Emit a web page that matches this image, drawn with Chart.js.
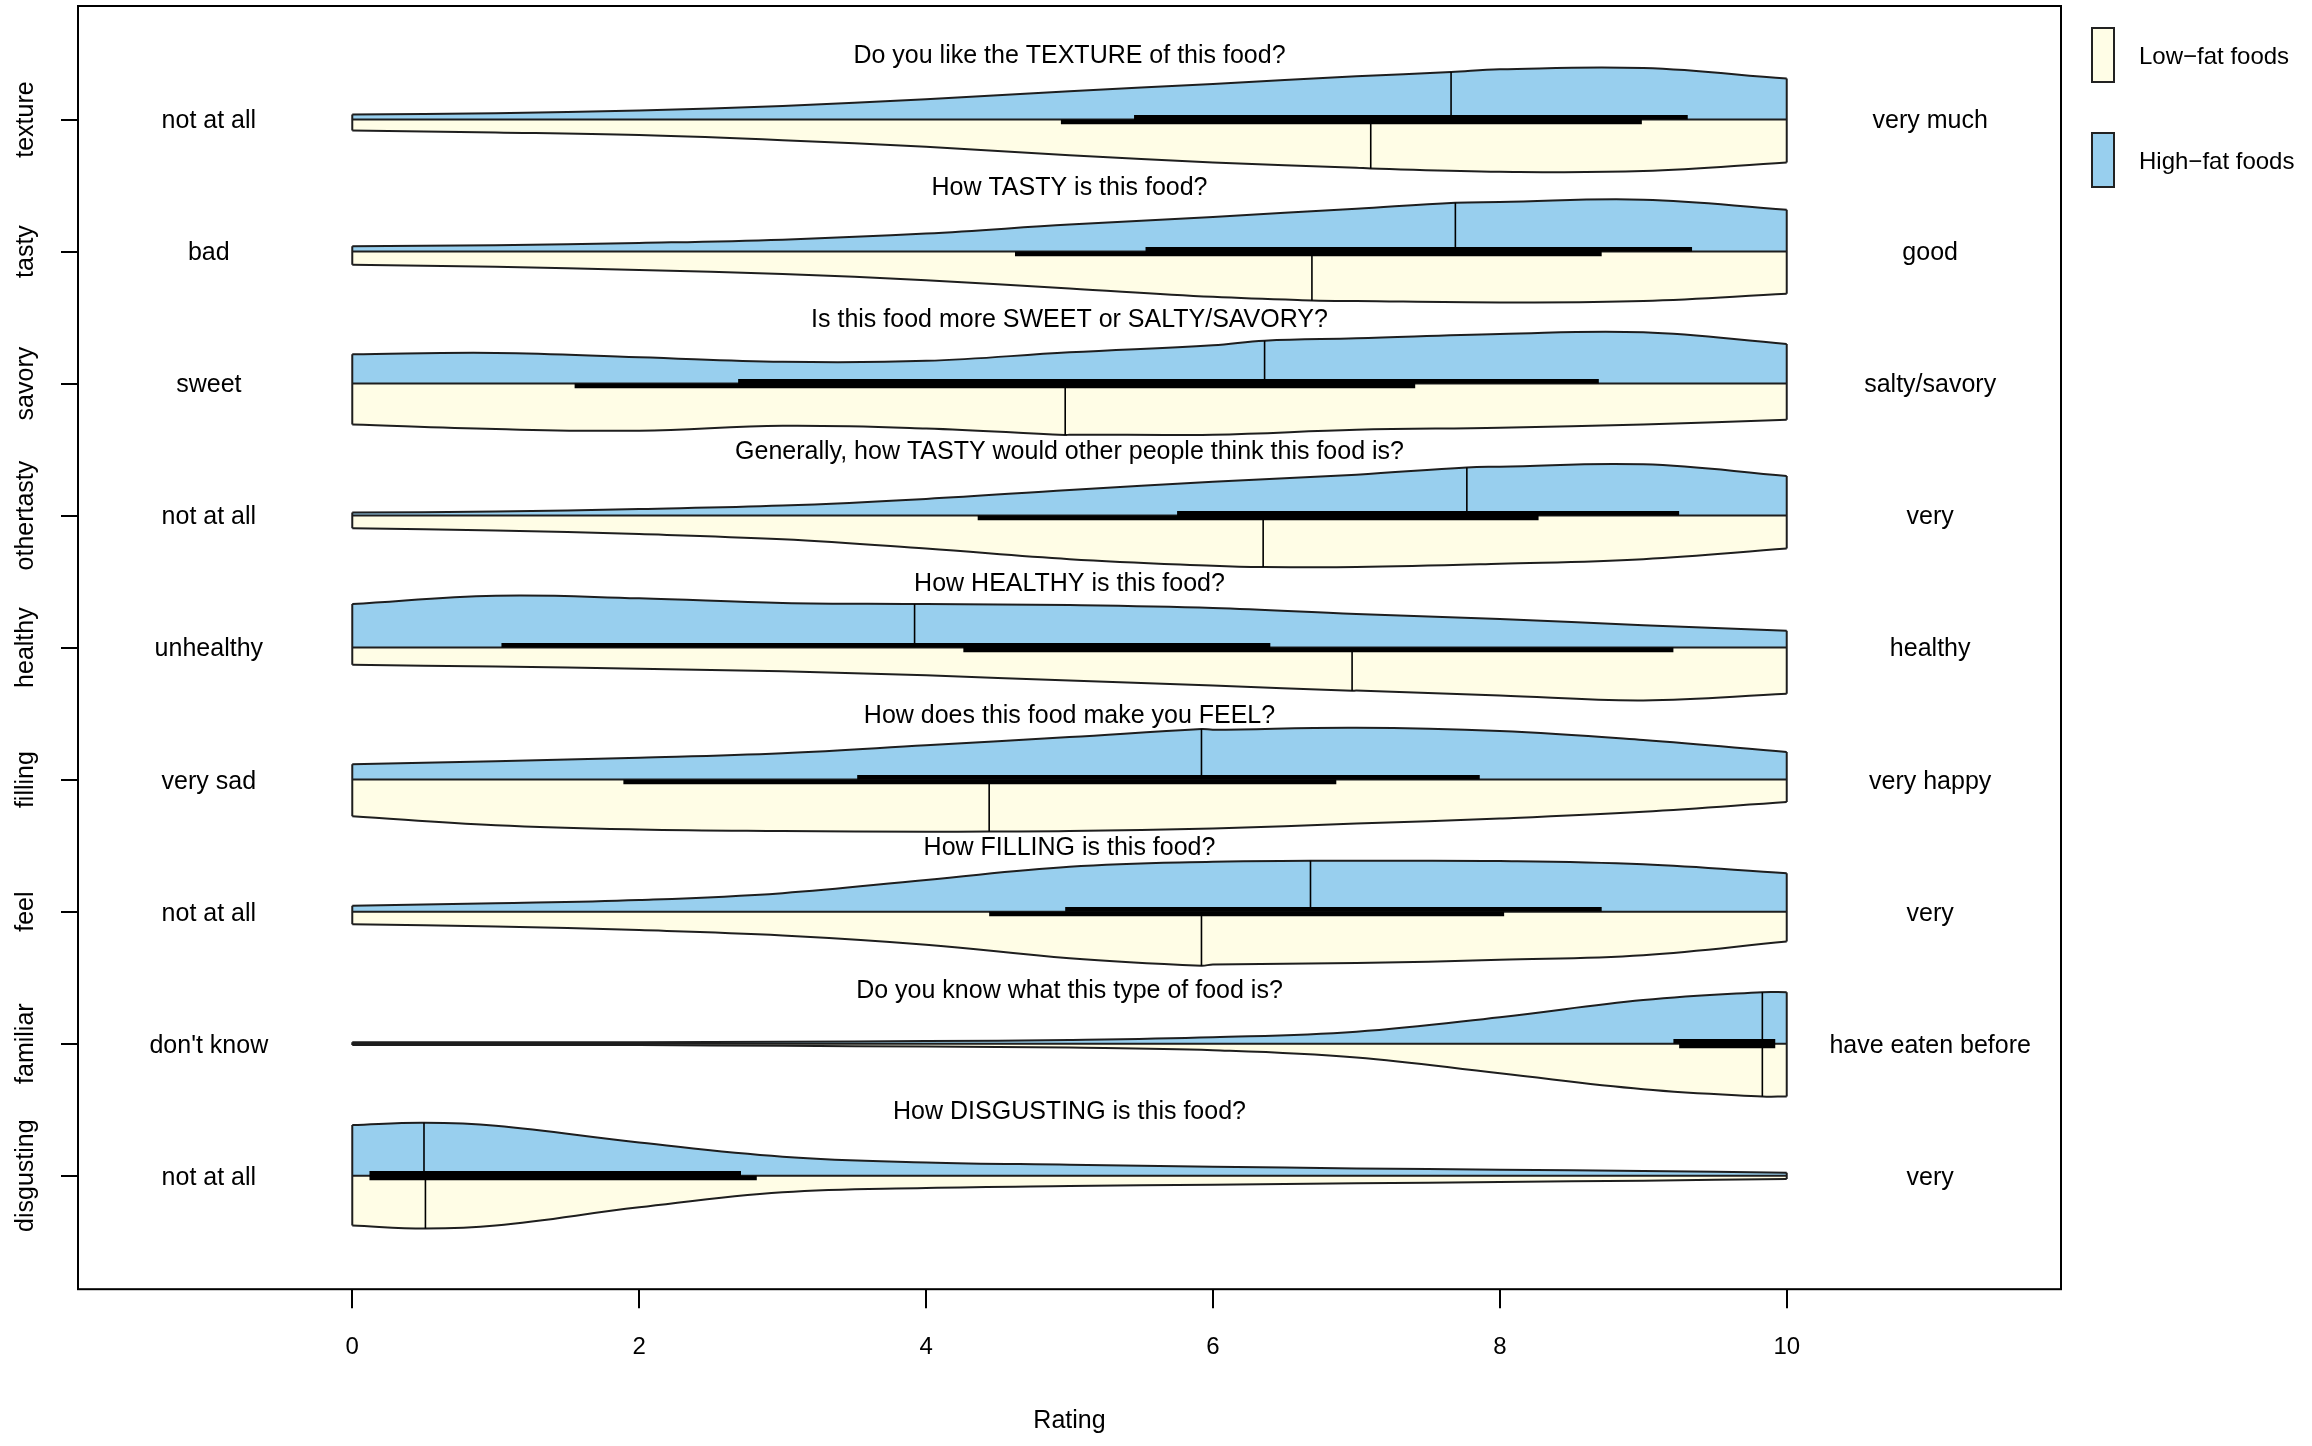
<!DOCTYPE html>
<html>
<head>
<meta charset="utf-8">
<title>Split violin plot of food ratings</title>
<script src="https://cdn.jsdelivr.net/npm/chart.js@4.4.1/dist/chart.umd.min.js"></script>
<style>
  html, body { margin: 0; padding: 0; background: #fff; }
  #wrap { width: 2312px; height: 1446px; position: relative; }
</style>
</head>
<body>
<div id="wrap"><canvas id="violins"></canvas></div>
<script>
// ===== DATA =====
const rowNames = ['texture', 'tasty', 'savory', 'othertasty', 'healthy', 'filling', 'feel', 'familiar', 'disgusting'];
const questions = [
  'Do you like the TEXTURE of this food?',
  'How TASTY is this food?',
  'Is this food more SWEET or SALTY/SAVORY?',
  'Generally, how TASTY would other people think this food is?',
  'How HEALTHY is this food?',
  'How does this food make you FEEL?',
  'How FILLING is this food?',
  'Do you know what this type of food is?',
  'How DISGUSTING is this food?'
];
const leftLabels = ['not at all', 'bad', 'sweet', 'not at all', 'unhealthy', 'very sad', 'not at all', "don't know", 'not at all'];
const rightLabels = ['very much', 'good', 'salty/savory', 'very', 'healthy', 'very happy', 'very', 'have eaten before', 'very'];

const ratingGrid = [0, 1, 2, 3, 4, 5, 6, 7, 8, 9, 10];
const xTicks = [0, 2, 4, 6, 8, 10];

// half-width of each violin at the ratings in ratingGrid
const highFatDensity = [
  [0.038, 0.048, 0.068, 0.103, 0.154, 0.214, 0.270, 0.327, 0.380, 0.390, 0.310],
  [0.040, 0.048, 0.065, 0.090, 0.136, 0.204, 0.262, 0.325, 0.375, 0.393, 0.317],
  [0.222, 0.232, 0.200, 0.165, 0.172, 0.237, 0.290, 0.343, 0.375, 0.388, 0.300],
  [0.023, 0.030, 0.050, 0.076, 0.126, 0.194, 0.257, 0.310, 0.370, 0.388, 0.300],
  [0.330, 0.393, 0.373, 0.338, 0.330, 0.322, 0.300, 0.254, 0.217, 0.170, 0.128],
  [0.116, 0.140, 0.166, 0.200, 0.260, 0.322, 0.378, 0.393, 0.368, 0.300, 0.210],
  [0.045, 0.063, 0.088, 0.140, 0.240, 0.340, 0.378, 0.385, 0.383, 0.358, 0.290],
  [0.010, 0.010, 0.011, 0.015, 0.020, 0.028, 0.048, 0.090, 0.200, 0.330, 0.390],
  [0.383, 0.378, 0.252, 0.144, 0.100, 0.083, 0.068, 0.055, 0.045, 0.035, 0.022]
];
const lowFatDensity = [
  [0.083, 0.098, 0.118, 0.156, 0.207, 0.270, 0.325, 0.365, 0.395, 0.390, 0.325],
  [0.100, 0.116, 0.140, 0.170, 0.217, 0.280, 0.343, 0.375, 0.385, 0.375, 0.320],
  [0.310, 0.345, 0.357, 0.320, 0.340, 0.387, 0.387, 0.350, 0.335, 0.310, 0.275],
  [0.096, 0.113, 0.140, 0.180, 0.250, 0.330, 0.380, 0.390, 0.365, 0.330, 0.250],
  [0.130, 0.144, 0.160, 0.180, 0.210, 0.250, 0.287, 0.325, 0.363, 0.400, 0.350],
  [0.277, 0.345, 0.378, 0.390, 0.395, 0.390, 0.370, 0.333, 0.295, 0.244, 0.170],
  [0.096, 0.113, 0.140, 0.180, 0.250, 0.353, 0.400, 0.390, 0.365, 0.330, 0.227],
  [0.010, 0.010, 0.011, 0.016, 0.022, 0.030, 0.050, 0.105, 0.225, 0.345, 0.400],
  [0.378, 0.378, 0.240, 0.126, 0.093, 0.078, 0.068, 0.058, 0.048, 0.038, 0.025]
];

const highFatMedian = [7.66, 7.69, 6.36, 7.77, 3.92, 5.92, 6.68, 9.83, 0.50];
const highFatMedianWidth = [0.360, 0.370, 0.325, 0.365, 0.330, 0.383, 0.385, 0.390, 0.400];
const lowFatMedian = [7.10, 6.69, 4.97, 6.35, 6.97, 4.44, 5.92, 9.83, 0.51];
const lowFatMedianWidth = [0.370, 0.370, 0.390, 0.390, 0.327, 0.393, 0.410, 0.400, 0.400];

const highFatIQR = [[5.45, 9.31], [5.53, 9.34], [2.69, 8.69], [5.75, 9.25], [1.04, 6.40], [3.52, 7.86], [4.97, 8.71], [9.21, 9.92], [0.12, 2.71]];
const lowFatIQR = [[4.94, 8.99], [4.62, 8.71], [1.55, 7.41], [4.36, 8.27], [4.26, 9.21], [1.89, 6.86], [4.44, 8.03], [9.25, 9.92], [0.12, 2.82]];

// ===== STYLE =====
const FONT = '"Liberation Sans", Arial, Helvetica, sans-serif';
const HIGH_FILL = '#98CFEE';
const LOW_FILL = '#FFFDE6';
const EDGE = '#1e1e1e';
const BAR_OFFSET = 0.0175;

const rowPos = i => rowNames.length - i;

// outline of one half: density grid plus the median tip, sorted by rating
function halfOutline(density, median, medianWidth, r, sign) {
  const pts = ratingGrid.map((x, k) => ({ x: x, y: r + sign * density[k] }));
  pts.push({ x: median, y: r + sign * medianWidth });
  return pts.sort((a, b) => a.x - b.x);
}

const datasets = [];
rowNames.forEach((name, i) => {
  const r = rowPos(i);
  const hi = highFatDensity[i];
  const lo = lowFatDensity[i];
  const last = ratingGrid.length - 1;

  datasets.push({
    label: name + ' high',
    data: halfOutline(hi, highFatMedian[i], highFatMedianWidth[i], r, 1),
    borderColor: EDGE, borderWidth: 2, backgroundColor: HIGH_FILL,
    fill: { value: r }, tension: 0.4, pointRadius: 0, order: 3
  });
  datasets.push({
    label: name + ' low',
    data: halfOutline(lo, lowFatMedian[i], lowFatMedianWidth[i], r, -1),
    borderColor: EDGE, borderWidth: 2, backgroundColor: LOW_FILL,
    fill: { value: r }, tension: 0.4, pointRadius: 0, order: 3
  });
  // end caps and centre line of the violin
  datasets.push({
    label: name + ' frame',
    data: [
      { x: ratingGrid[0], y: r + hi[0] }, { x: ratingGrid[0], y: r - lo[0] }, { x: ratingGrid[0], y: null },
      { x: ratingGrid[last], y: r + hi[last] }, { x: ratingGrid[last], y: r - lo[last] }, { x: ratingGrid[last], y: null },
      { x: ratingGrid[0], y: r }, { x: ratingGrid[last], y: r }
    ],
    borderColor: EDGE, borderWidth: 2, fill: false, tension: 0, spanGaps: false, pointRadius: 0, order: 2
  });
  // medians
  datasets.push({
    label: name + ' medians',
    data: [
      { x: highFatMedian[i], y: r }, { x: highFatMedian[i], y: r + highFatMedianWidth[i] }, { x: highFatMedian[i], y: null },
      { x: lowFatMedian[i], y: r }, { x: lowFatMedian[i], y: r - lowFatMedianWidth[i] }
    ],
    borderColor: '#000', borderWidth: 1.6, fill: false, tension: 0, spanGaps: false, pointRadius: 0, order: 2
  });
  // interquartile bars
  datasets.push({
    label: name + ' iqr',
    data: [
      { x: highFatIQR[i][0], y: r + BAR_OFFSET }, { x: highFatIQR[i][1], y: r + BAR_OFFSET }, { x: highFatIQR[i][1], y: null },
      { x: lowFatIQR[i][0], y: r - BAR_OFFSET }, { x: lowFatIQR[i][1], y: r - BAR_OFFSET }
    ],
    borderColor: '#000', borderWidth: 4.6, borderCapStyle: 'butt', fill: false, tension: 0, spanGaps: false, pointRadius: 0, order: 1
  });
});

// box, row texts and legend
const violinText = {
  id: 'violinText',
  afterDraw(chart) {
    const { ctx, chartArea: a, scales: { x, y } } = chart;
    ctx.save();
    ctx.strokeStyle = '#000';
    ctx.lineWidth = 2;
    ctx.strokeRect(a.left, a.top, a.right - a.left, a.bottom - a.top);

    ctx.fillStyle = '#000';
    ctx.textAlign = 'center';
    ctx.textBaseline = 'middle';
    rowNames.forEach((name, i) => {
      const r = rowPos(i);
      const py = y.getPixelForValue(r);
      const lift = name === 'familiar' ? 0.40 : 0.48;
      ctx.font = '25px ' + FONT;
      ctx.fillText(questions[i], x.getPixelForValue(5), y.getPixelForValue(r + lift));
      ctx.fillText(leftLabels[i], x.getPixelForValue(-1), py + 2);
      ctx.fillText(rightLabels[i], x.getPixelForValue(11), py + 2);
      ctx.save();
      ctx.translate(a.left - 52, py);
      ctx.rotate(-Math.PI / 2);
      ctx.fillText(name, 0, 0);
      ctx.restore();
    });

    const items = [
      { text: 'Low\u2212fat foods', fill: LOW_FILL, top: 28 },
      { text: 'High\u2212fat foods', fill: HIGH_FILL, top: 133 }
    ];
    const bx = a.right + 31;
    ctx.textAlign = 'left';
    ctx.font = '24px ' + FONT;
    items.forEach(it => {
      ctx.fillStyle = it.fill;
      ctx.fillRect(bx, it.top, 22, 54);
      ctx.strokeStyle = '#222';
      ctx.lineWidth = 2;
      ctx.strokeRect(bx, it.top, 22, 54);
      ctx.fillStyle = '#000';
      ctx.fillText(it.text, bx + 47, it.top + 29);
    });
    ctx.restore();
  }
};

new Chart(document.getElementById('violins'), {
  type: 'line',
  data: { datasets: datasets },
  options: {
    responsive: true,
    maintainAspectRatio: false,
    animation: false,
    events: [],
    layout: { padding: { left: 61, right: 251, top: 6, bottom: 0 } },
    plugins: {
      legend: { display: false },
      tooltip: { enabled: false }
    },
    scales: {
      x: {
        type: 'linear', min: -1.912, max: 11.912,
        afterBuildTicks: s => { s.ticks = xTicks.map(v => ({ value: v })); },
        grid: { drawOnChartArea: false, drawTicks: true, tickLength: 19, color: '#000', lineWidth: 2 },
        border: { display: false },
        ticks: { color: '#000', font: { family: FONT, size: 24 }, padding: 25, maxRotation: 0, autoSkip: false },
        title: { display: true, text: 'Rating', color: '#000', font: { family: FONT, size: 25 }, padding: { top: 19, bottom: 10 } }
      },
      y: {
        type: 'linear', min: 0.14, max: 9.86,
        afterBuildTicks: s => { s.ticks = rowNames.map((_, i) => ({ value: rowPos(i) })); },
        grid: { drawOnChartArea: false, drawTicks: true, tickLength: 17, color: '#000', lineWidth: 2 },
        border: { display: false },
        ticks: { display: false }
      }
    }
  },
  plugins: [violinText]
});
</script>
</body>
</html>
